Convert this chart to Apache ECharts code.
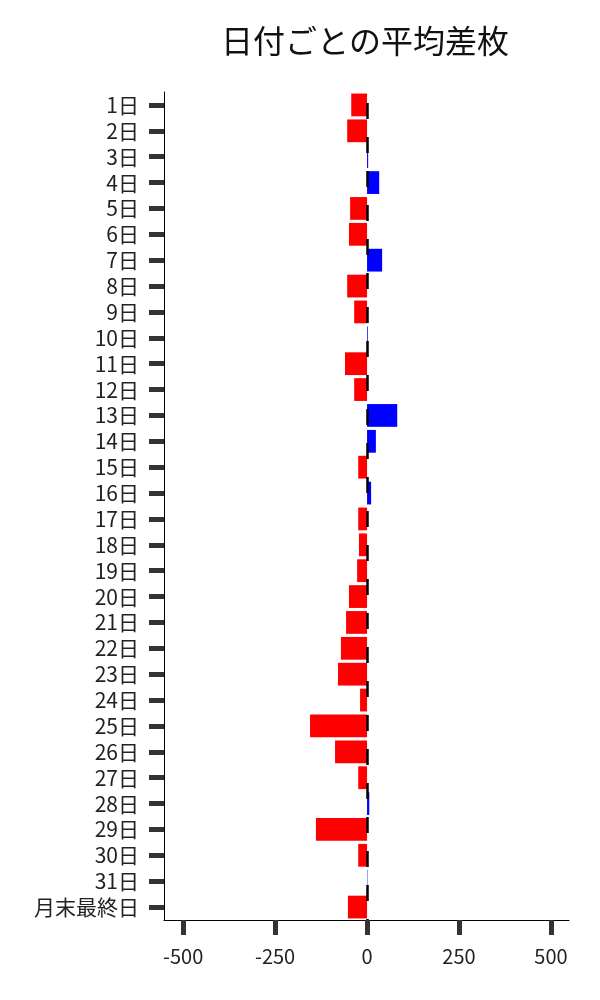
<!DOCTYPE html>
<html>
<head>
<meta charset="utf-8">
<script src="https://cdn.jsdelivr.net/npm/echarts@6/dist/echarts.min.js"></script>
<style>html,body{margin:0;padding:0;background:#fff;}#c{width:600px;height:1000px;}</style>
</head>
<body>
<div id="c"></div>
<script>
const categories = ['1日','2日','3日','4日','5日','6日','7日','8日','9日','10日','11日','12日','13日','14日','15日','16日','17日','18日','19日','20日','21日','22日','23日','24日','25日','26日','27日','28日','29日','30日','31日','月末最終日'];
const values = [-43,-54,3,33,-46,-49,41,-54,-35,2,-60,-35,82,24,-24,11,-24,-22,-27,-49,-57,-71,-79,-19,-155,-87,-24,6,-139,-24,1,-52];
const xTicks = [-500,-250,0,250,500];
const titleText = '日付ごとの平均差枚';

const FONT = '"Noto Sans CJK JP", "Noto Sans", sans-serif';
const chart = echarts.init(document.getElementById('c'));
chart.setOption({
  animation: false,
  backgroundColor: '#fff',
  title: {
    text: titleText,
    left: 360, top: 20, textAlign: 'center',
    textStyle: { fontFamily: FONT, fontSize: 32, fontWeight: 'normal', color: '#111' }
  },
  grid: { left: 164, right: 31, top: 92, bottom: 80, containLabel: false },
  xAxis: {
    type: 'value', min: -552, max: 549,
    splitLine: { show: false },
    axisLine: { show: true, onZero: false, lineStyle: { color: '#000', width: 1 } },
    axisTick: { show: true, length: 15, customValues: xTicks, lineStyle: { color: '#333', width: 5 } },
    axisLabel: { customValues: xTicks, margin: 26, fontFamily: FONT, fontSize: 20, color: '#222' }
  },
  yAxis: {
    type: 'category', data: categories, inverse: true,
    axisLine: { show: true, onZero: false, lineStyle: { color: '#000', width: 1 } },
    axisTick: { show: true, length: 15, interval: 0, alignWithLabel: true, lineStyle: { color: '#333', width: 5 } },
    axisLabel: { interval: 0, margin: 25, padding: [10, 0, 0, 0], fontFamily: FONT, fontSize: 21, color: '#222' }
  },
  series: [{
    type: 'bar',
    barCategoryGap: '12%',
    data: values.map(v => ({ value: v, itemStyle: { color: v >= 0 ? '#0000ff' : '#ff0000' } })),
    z: 2,
    markLine: {
      silent: true, symbol: 'none', z: 3,
      label: { show: false },
      lineStyle: { color: '#000', width: 2.5, type: [16, 18], dashOffset: 23 },
      data: [{ xAxis: 0 }]
    }
  }]
});
</script>
</body>
</html>
